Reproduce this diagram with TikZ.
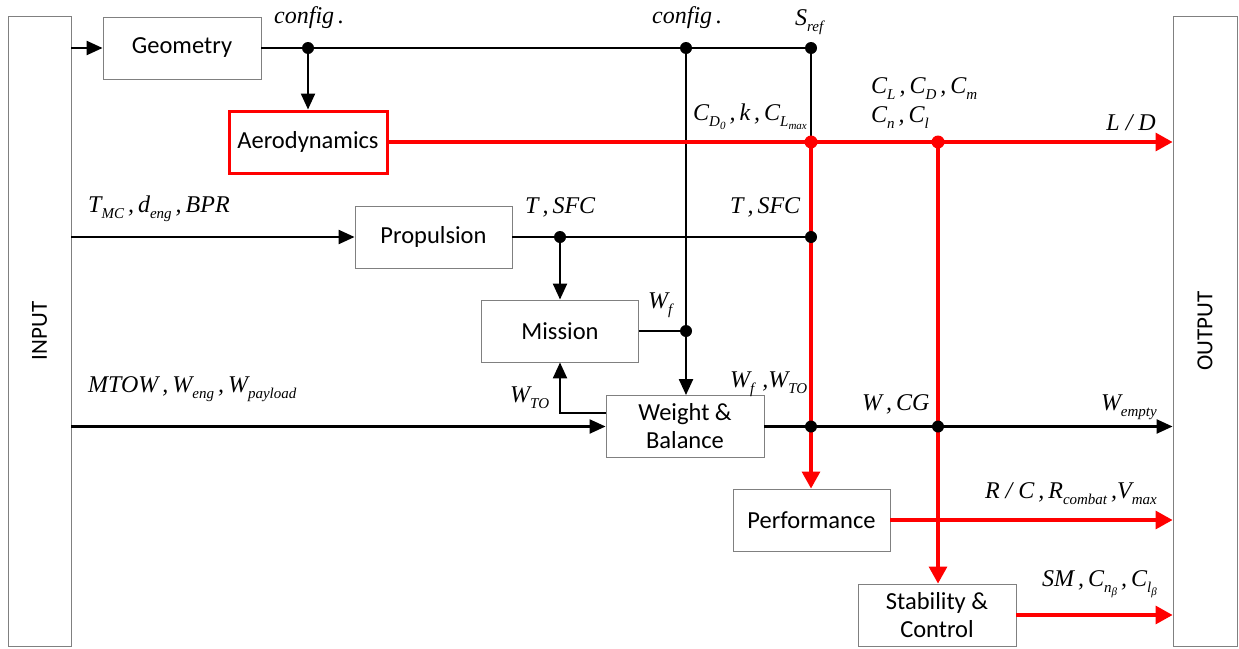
\documentclass[tikz,border=0pt]{standalone}
\usepackage{fontspec}
\setmainfont{Carlito}
\newfontfamily\tms{Liberation Serif}
\usetikzlibrary{arrows.meta}
\newcommand\sbx[1]{\raisebox{-0.28em}{\fontsize{15}{15}\selectfont #1}}
\newcommand\ssbx[1]{\raisebox{-0.2em}{\fontsize{11}{11}\selectfont #1}}
\begin{document}
\begin{tikzpicture}[x=1pt,y=-1pt,
  box/.style={draw=black!50, line width=0.9pt, minimum width=158pt, minimum height=62pt, inner sep=0pt, align=center, font=\fontsize{24.5}{28}\selectfont},
  iobox/.style={draw=black!50, line width=0.9pt, minimum width=63pt, minimum height=630pt, inner sep=0pt},
  blk/.style={line width=2.3pt, black},
  rd/.style={line width=3.2pt, red},
  tip/.style={-{Triangle[length=16pt,width=14pt]}},
  rtip/.style={-{Triangle[length=17pt,width=18pt]}},
  dot/.style={circle, fill, inner sep=0pt, minimum size=12pt},
  lab/.style={font=\tms\itshape\fontsize{24}{26}\selectfont, inner sep=0pt}
]
\useasboundingbox (0,0) rectangle (1239,648);
% boxes
\node[iobox] (in) at (39.5,331) {};
\node[rotate=90, font=\fontsize{23}{25}\selectfont] (intxt) at (in.center) {INPUT};
\node[iobox, minimum width=64pt] (out) at (1205,331) {};
\node[rotate=90, font=\fontsize{23}{25}\selectfont] (outtxt) at (out.center) {OUTPUT};
\node[box] (geo) at (182,48) {Geometry};
\node[box, draw=red, line width=3pt] (aero) at (308,142) {Aerodynamics};
\node[box, minimum width=157pt] (prop) at (433.5,237) {Propulsion};
\node[box, minimum width=157pt] (mis) at (560,331) {Mission};
\node[box] (wb) at (685,426.5) {Weight \&\\Balance};
\node[box, minimum width=157pt] (perf) at (811.5,520) {Performance};
\node[box] (stab) at (937,615) {Stability \&\\Control};
% junction coordinates
\coordinate (j1) at (308,48);
\coordinate (j2) at (686,48);
\coordinate (j3) at (811,48);
\coordinate (r1) at (811,142);
\coordinate (r2) at (938,142);
\coordinate (p1) at (560,237);
\coordinate (p2) at (811,237);
\coordinate (m1) at (686,331);
\coordinate (w1) at (811,426.5);
\coordinate (w2) at (938,426.5);
\coordinate (wt) at (560,413);
% black connectors
\draw[blk, tip] (in.east|-geo) -- (geo.west);
\draw[blk] (geo.east) -- (j3);
\draw[blk, tip] (j1) -- (aero.north);
\draw[blk] (j3) -- (r1);
\draw[blk, tip] (j2) -- (j2|-wb.north);
\draw[blk, tip] (in.east|-prop) -- (prop.west);
\draw[blk] (prop.east) -- (p2);
\draw[blk, tip] (p1) -- (mis.north);
\draw[blk] (mis.east) -- (m1);
\draw[blk, tip] (wb.west|-wt) -- (wt) -- (mis.south);
\draw[blk, tip] (in.east|-wb) -- (wb.west);
\draw[blk, tip] (wb.east) -- (wb.east-|out.west);
% red connectors
\draw[rd, rtip] (aero.east) -- (aero.east-|out.west);
\draw[rd, rtip] (r1) -- (r1|-perf.north);
\draw[rd, rtip] (r2) -- (r2|-stab.north);
\draw[rd, rtip] (perf.east) -- (perf.east-|out.west);
\draw[rd, rtip] (stab.east) -- (stab.east-|out.west);
% dots
\foreach \c in {j1,j2,j3,p1,p2,m1,w1,w2} \node[dot, black] at (\c) {};
\foreach \c in {r1,r2} \node[dot, red, minimum size=13pt] at (\c) {};
% labels
\node[lab, anchor=base west] (l1) at (274,23) {config\,.};
\node[lab, anchor=base west] (l2) at (652,23) {config\,.};
\node[lab, anchor=base west] (l3) at (795,25) {S\sbx{ref}};
\node[lab, anchor=base west] (l4) at (693,120) {C\sbx{D\ssbx{0}}\,,\,k\,,\,C\sbx{L\ssbx{max}}};
\node[lab, anchor=base west] (l5) at (871,93) {C\sbx{L}\,,\,C\sbx{D}\,,\,C\sbx{m}};
\node[lab, anchor=base west] (l6) at (871,122) {C\sbx{n}\,,\,C\sbx{l}};
\node[lab, anchor=base east] (l7) at (1156,130) {L / D};
\node[lab, anchor=base west] (l8) at (88,212) {T\sbx{MC}\,,\,d\sbx{eng}\,,\,BPR};
\node[lab, anchor=base west] (l9) at (525,213) {T\,,\,SFC};
\node[lab, anchor=base west] (l10) at (730,213) {T\,,\,SFC};
\node[lab, anchor=base west] (l11) at (648,308) {W\sbx{f}};
\node[lab, anchor=base west] (l12) at (510,402) {W\sbx{TO}};
\node[lab, anchor=base west] (l13) at (730,387) {W\sbx{f}\,\,,W\sbx{TO}};
\node[lab, anchor=base west] (l14) at (88,392) {MTOW\,,\,W\sbx{eng}\,,\,W\sbx{payload}};
\node[lab, anchor=base west] (l15) at (862,410) {W\,,\,CG};
\node[lab, anchor=base east] (l16) at (1157,410) {W\sbx{empty}};
\node[lab, anchor=base east] (l17) at (1157,498) {R / C\,,\,R\sbx{combat}\,,V\sbx{max}};
\node[lab, anchor=base east] (l18) at (1157,586) {SM\,,\,C\sbx{n\ssbx{β}}\,,\,C\sbx{l\ssbx{β}}};
\end{tikzpicture}
\end{document}
